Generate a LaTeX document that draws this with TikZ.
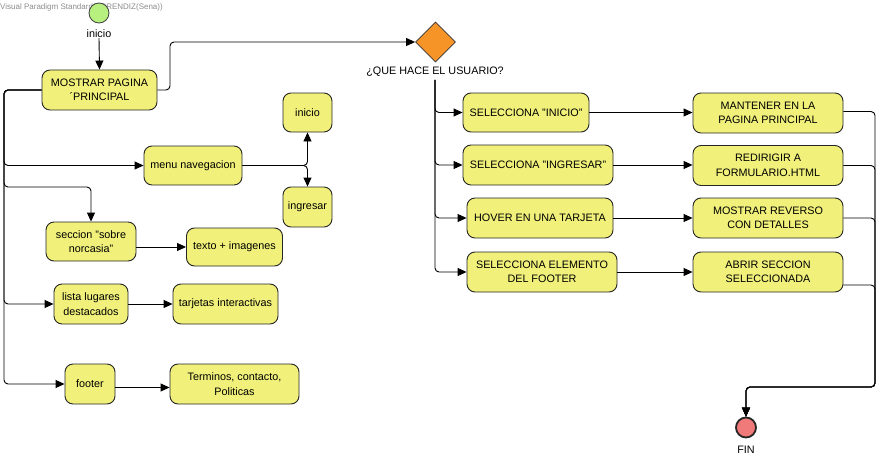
\documentclass[tikz,border=0pt]{standalone}
\usepackage{fontspec}
\setmainfont{Liberation Sans}
\usetikzlibrary{shapes.geometric,arrows.meta}
\definecolor{actfill}{RGB}{240,240,122}
\definecolor{startfill}{RGB}{184,240,128}
\definecolor{finfill}{RGB}{240,122,122}
\definecolor{decfill}{RGB}{247,148,40}
\begin{document}
\begin{tikzpicture}[x=1pt,y=-1pt,
  txt/.style={font=\fontsize{10.8}{14.5}\selectfont, inner sep=0pt},
  act/.style={draw=black!85, fill=actfill, rounded corners=8pt, line width=0.9pt,
    align=center, inner sep=1pt, font=\fontsize{10.8}{14.5}\selectfont},
  sz/.style 2 args={minimum width=#1pt, minimum height=#2pt},
  flow/.style={draw=black, line width=0.9pt, rounded corners=4pt,
    -{Triangle[length=9pt,width=8pt]}}]
\useasboundingbox (0,0) rectangle (881,460);

% watermark
\node[anchor=west, inner sep=0pt, text=black!45, font=\fontsize{8}{9}\selectfont] (wm) at (0,7) {Visual Paradigm Standard(APRENDIZ(Sena))};

% start / end
\node[circle, draw=black!75, fill=startfill, minimum size=20pt, inner sep=0pt, line width=0.8pt] (start) at (99,13) {};
\node[txt] (startlbl) at (99,34) {inicio};
\node[circle, draw=black!85, fill=finfill, minimum size=20pt, inner sep=0pt, line width=1.8pt] (fin) at (746,427.5) {};
\node[txt] (finlbl) at (746,450) {FIN};

% left column
\node[act, sz={115}{40}] (mostrar) at (99.5,90) {MOSTRAR PAGINA\\´PRINCIPAL};
\node[act, sz={98}{39}] (menu) at (193,165.5) {menu navegacion};
\node[act, sz={49}{39}] (inicioB) at (307.5,112.5) {inicio};
\node[act, sz={49}{40}] (ingresar) at (307.5,207) {ingresar};
\node[act, sz={90}{39}] (seccion) at (91,241.5) {seccion "sobre\\norcasia"};
\node[act, sz={96}{38}] (texto) at (234.5,247) {texto + imagenes};
\node[act, sz={74}{40}] (lista) at (91,304) {lista lugares\\destacados};
\node[act, sz={105}{40}] (tarjetas) at (225.5,304) {tarjetas interactivas};
\node[act, sz={50}{40}] (footer) at (90,384) {footer};
\node[act, sz={129}{40}] (terminos) at (234.5,384) {Terminos, contacto,\\Politicas};

% decision
\node[diamond, draw=black!80, fill=decfill, minimum width=40pt, minimum height=40pt, inner sep=0pt, line width=0.8pt] (dec) at (435.5,42) {};
\node[txt, inner ysep=3pt] (declbl) at (435,72) {¿QUE HACE EL USUARIO?};

% right column
\node[act, sz={126}{39}] (selInicio) at (526,112.5) {SELECCIONA "INICIO"};
\node[act, sz={150}{40}] (mantener) at (768,113) {MANTENER EN LA\\PAGINA PRINCIPAL};
\node[act, sz={150}{40}] (selIngresar) at (538,165) {SELECCIONA "INGRESAR"};
\node[act, sz={150}{40}] (redirigir) at (768,165.5) {REDIRIGIR A\\FORMULARIO.HTML};
\node[act, sz={146}{40}] (hover) at (540,218) {HOVER EN UNA TARJETA};
\node[act, sz={150}{40}] (reverso) at (768,218) {MOSTRAR REVERSO\\CON DETALLES};
\node[act, sz={150}{40}] (selFooter) at (542,272) {SELECCIONA ELEMENTO\\DEL FOOTER};
\node[act, sz={150}{40}] (abrir) at (768,272) {ABRIR SECCION\\SELECCIONADA};

% helper coordinates
\coordinate (L) at (4,90);
\coordinate (sb) at (91,187);
\coordinate (m1) at (170,42);
\coordinate (rc) at (875,387);

% connectors
\draw[flow] (startlbl.south) -- (mostrar.north);
\draw[flow] (mostrar.east) -| (m1) -- (dec.west);
\draw[flow] (mostrar.west) -- (L) |- (menu.west);
\draw[flow] (mostrar.west) -- (L) |- (sb) -- (seccion.north);
\draw[flow] (mostrar.west) -- (L) |- (lista.west);
\draw[flow] (mostrar.west) -- (L) |- (footer.west);
\draw[flow] (menu.east) -| (inicioB.south);
\draw[flow] (menu.east) -| (ingresar.north);
\draw[flow] (seccion.east |- texto.west) -- (texto.west);
\draw[flow] (lista.east) -- (tarjetas.west);
\draw[flow] ([yshift=-3.5pt]footer.east) -- ([yshift=-3.5pt]terminos.west);

\draw[flow] (declbl.south) |- (selInicio.west);
\draw[flow] (declbl.south) |- (selIngresar.west);
\draw[flow] (declbl.south) |- (hover.west);
\draw[flow] (declbl.south) |- (selFooter.west);

\draw[flow] (selInicio.east) -- (mantener.west |- selInicio.east);
\draw[flow] (selIngresar.east) -- (redirigir.west |- selIngresar.east);
\draw[flow] (hover.east) -- (reverso.west);
\draw[flow] (selFooter.east) -- (abrir.west);

\draw[flow] ([yshift=1.5pt]mantener.east) -| (rc) -| (fin.north);
\draw[flow] (redirigir.east) -| (rc) -| (fin.north);
\draw[flow] (reverso.east) -| (rc) -| (fin.north);
\draw[flow] ([yshift=-13pt]abrir.east) -| (rc) -| (fin.north);
\end{tikzpicture}
\end{document}
